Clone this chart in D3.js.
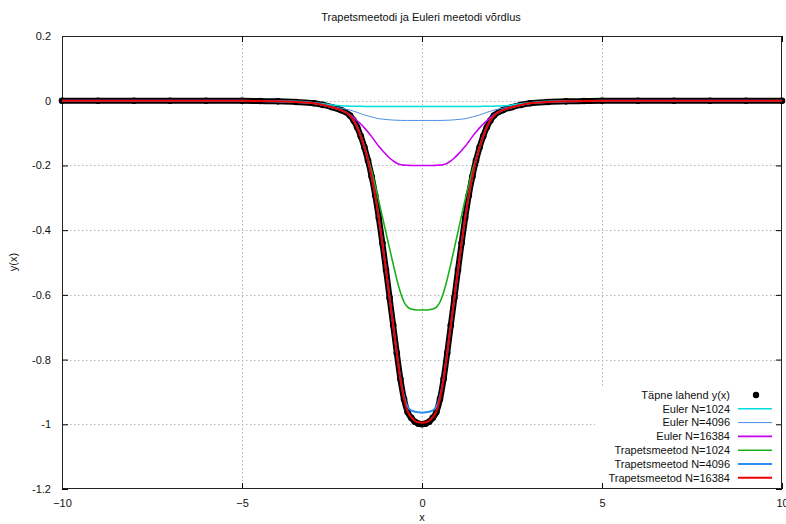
<!DOCTYPE html>
<html><head><meta charset="utf-8">
<script src="https://cdn.jsdelivr.net/npm/d3@7"></script>
<style>
body{margin:0;background:#fff}
svg{display:block}
text{font-family:"Liberation Sans",Arial,Helvetica,sans-serif;fill:#111}
</style>
</head><body>
<svg id="chart" width="786" height="524"></svg>
<script>
// ---------- data ----------
const xValues = [-10,-9,-8,-7,-6,-5,-4.5,-4,-3.5,-3,-2.75,-2.5,-2.25,-2,-1.9,-1.8,-1.7,-1.6,-1.5,-1.4,-1.3,-1.2,-1.1,-1,-0.9,-0.8,-0.7,-0.6,-0.5,-0.4,-0.3,-0.2,-0.1,0,
  0.1,0.2,0.3,0.4,0.5,0.6,0.7,0.8,0.9,1,1.1,1.2,1.3,1.4,1.5,1.6,1.7,1.8,1.9,2,2.25,2.5,2.75,3,3.5,4,4.5,5,6,7,8,9,10];

const exactY = [0,0,0,0,0,0,-0.001,-0.002,-0.004,-0.008,-0.013,-0.020,-0.029,-0.046,-0.061,-0.082,-0.110,-0.144,-0.185,-0.234,-0.292,-0.362,-0.440,-0.523,-0.609,-0.694,-0.780,-0.860,-0.922,-0.962,-0.980,-0.992,-0.998,-1.000,
  -0.998,-0.992,-0.980,-0.962,-0.922,-0.860,-0.780,-0.694,-0.609,-0.523,-0.440,-0.362,-0.292,-0.234,-0.185,-0.144,-0.110,-0.082,-0.061,-0.046,-0.029,-0.020,-0.013,-0.008,-0.004,-0.002,-0.001,0,0,0,0,0,0];

const euler1024 = [0,0,0,0,0,0,0,-0.0005,-0.002,-0.006,-0.009,-0.013,-0.0158,-0.0168,-0.0171,-0.0173,-0.0174,-0.0175,-0.0175,-0.0175,-0.0175,-0.0175,-0.0175,-0.0175,-0.0175,-0.0175,-0.0175,-0.0175,-0.0175,-0.0175,-0.0175,-0.0175,-0.0175,-0.0175,
  -0.0175,-0.0175,-0.0175,-0.0175,-0.0175,-0.0175,-0.0175,-0.0175,-0.0175,-0.0175,-0.0175,-0.0175,-0.0175,-0.0175,-0.0175,-0.0175,-0.0174,-0.0173,-0.0171,-0.0168,-0.0158,-0.013,-0.009,-0.006,-0.002,-0.0005,0,0,0,0,0,0,0];

const euler4096 = [0,0,0,0,0,0,0,-0.001,-0.003,-0.008,-0.013,-0.018,-0.023,-0.029,-0.0325,-0.036,-0.040,-0.044,-0.047,-0.050,-0.053,-0.0555,-0.057,-0.058,-0.059,-0.0598,-0.0603,-0.0607,-0.061,-0.061,-0.061,-0.061,-0.061,-0.061,
  -0.061,-0.061,-0.061,-0.061,-0.061,-0.0607,-0.0603,-0.0598,-0.059,-0.058,-0.057,-0.0555,-0.053,-0.050,-0.047,-0.044,-0.040,-0.036,-0.0325,-0.029,-0.023,-0.018,-0.013,-0.008,-0.003,-0.001,0,0,0,0,0,0,0];

const euler16384 = [0,0,0,0,0,0,-0.001,-0.002,-0.004,-0.008,-0.013,-0.020,-0.029,-0.043,-0.052,-0.062,-0.072,-0.084,-0.097,-0.111,-0.126,-0.141,-0.154,-0.166,-0.177,-0.186,-0.193,-0.197,-0.199,-0.1995,-0.200,-0.200,-0.200,-0.200,
  -0.200,-0.200,-0.200,-0.1995,-0.199,-0.197,-0.193,-0.186,-0.177,-0.166,-0.154,-0.141,-0.126,-0.111,-0.097,-0.084,-0.072,-0.062,-0.052,-0.043,-0.029,-0.020,-0.013,-0.008,-0.004,-0.002,-0.001,0,0,0,0,0,0];

const trap1024 = [0,0,0,0,0,0,-0.001,-0.002,-0.004,-0.008,-0.013,-0.020,-0.029,-0.045,-0.060,-0.081,-0.108,-0.141,-0.178,-0.216,-0.262,-0.310,-0.359,-0.408,-0.457,-0.505,-0.552,-0.592,-0.622,-0.638,-0.644,-0.646,-0.647,-0.647,
  -0.647,-0.646,-0.644,-0.638,-0.622,-0.592,-0.552,-0.505,-0.455,-0.405,-0.355,-0.305,-0.260,-0.215,-0.178,-0.141,-0.108,-0.081,-0.060,-0.045,-0.029,-0.020,-0.013,-0.008,-0.004,-0.002,-0.001,0,0,0,0,0,0];

const trap4096 = [0,0,0,0,0,0,-0.001,-0.002,-0.004,-0.008,-0.013,-0.020,-0.029,-0.046,-0.061,-0.082,-0.110,-0.144,-0.185,-0.234,-0.292,-0.362,-0.440,-0.523,-0.609,-0.694,-0.780,-0.858,-0.914,-0.946,-0.957,-0.961,-0.963,-0.964,
  -0.963,-0.961,-0.957,-0.946,-0.914,-0.858,-0.780,-0.694,-0.609,-0.523,-0.440,-0.362,-0.292,-0.234,-0.185,-0.144,-0.110,-0.082,-0.061,-0.046,-0.029,-0.020,-0.013,-0.008,-0.004,-0.002,-0.001,0,0,0,0,0,0];

const trap16384 = [0,0,0,0,0,0,-0.001,-0.002,-0.004,-0.008,-0.013,-0.020,-0.029,-0.046,-0.061,-0.082,-0.110,-0.144,-0.185,-0.234,-0.292,-0.362,-0.440,-0.523,-0.609,-0.694,-0.780,-0.860,-0.921,-0.960,-0.978,-0.989,-0.994,-0.995,
  -0.994,-0.989,-0.978,-0.960,-0.921,-0.860,-0.780,-0.694,-0.609,-0.523,-0.440,-0.362,-0.292,-0.234,-0.185,-0.144,-0.110,-0.082,-0.061,-0.046,-0.029,-0.020,-0.013,-0.008,-0.004,-0.002,-0.001,0,0,0,0,0,0];

const xTicks = [-10,-5,0,5,10];
const yTicks = [0.2,0,-0.2,-0.4,-0.6,-0.8,-1,-1.2];
const titleText = "Trapetsmeetodi ja Euleri meetodi võrdlus";
const xLabel = "x";
const yLabel = "y(x)";
const exactLabel = "Täpne lahend y(x)";
const lineLabels = ["Euler N=1024","Euler N=4096","Euler N=16384","Trapetsmeetod N=1024","Trapetsmeetod N=4096","Trapetsmeetod N=16384"];
const lineSeries = [euler1024, euler4096, euler16384, trap1024, trap4096, trap16384];

// ---------- styles ----------
const lineColors = ["#00dede","#4a8fe6","#c800f0","#18b018","#2b8ef5","#f00000"];
const lineWidths = [1.5,1,1.6,1.6,2,2];

// ---------- drawing ----------
const svg = d3.select("#chart");
const x = d3.scaleLinear().domain([-10,10]).range([62,782]);
const y = d3.scaleLinear().domain([-1.2,0.2]).range([489,36]);
const X0 = x.range()[0], X1 = x.range()[1], Y0 = y.range()[1], Y1 = y.range()[0];

svg.append("rect").attr("width",786).attr("height",524).attr("fill","#fff");

// grid
const grid = svg.append("g").attr("stroke","#b4b4b4").attr("stroke-width",1).attr("stroke-dasharray","1.5,2.5");
grid.selectAll("line.gx").data(xTicks.filter(d=>d>-10&&d<10)).join("line")
  .attr("x1",d=>Math.round(x(d))+0.5).attr("x2",d=>Math.round(x(d))+0.5).attr("y1",Y0).attr("y2",Y1);
grid.selectAll("line.gy").data(yTicks.filter(d=>d<0.2&&d>-1.2)).join("line")
  .attr("y1",d=>Math.round(y(d))+0.5).attr("y2",d=>Math.round(y(d))+0.5).attr("x1",X0).attr("x2",X1);

// legend background (opaque)
svg.append("rect").attr("x",595).attr("y",388).attr("width",186).attr("height",100).attr("fill","#fff");

// axes
function styleAxis(g){ g.select(".domain").remove(); g.selectAll(".tick line").attr("stroke","#000"); g.selectAll("text").attr("font-size",11).attr("fill","#111").attr("font-family",'"Liberation Sans",Arial,sans-serif'); }
svg.append("g").attr("transform",`translate(0,${Y1})`)
  .call(d3.axisBottom(x).tickValues(xTicks).tickSize(-6).tickPadding(10).tickFormat(d3.format("d"))).call(styleAxis);
svg.append("g").attr("transform",`translate(0,${Y0})`)
  .call(d3.axisTop(x).tickValues(xTicks).tickSize(-6).tickFormat("")).call(styleAxis);
svg.append("g").attr("transform",`translate(${X0},0)`)
  .call(d3.axisLeft(y).tickValues(yTicks).tickSize(-6).tickPadding(11).tickFormat(d=>d===0?"0":String(+d.toFixed(1)))).call(styleAxis);
svg.append("g").attr("transform",`translate(${X1},0)`)
  .call(d3.axisRight(y).tickValues(yTicks).tickSize(-6).tickFormat("")).call(styleAxis);

// frame
svg.append("rect").attr("x",X0+0.5).attr("y",Y0+0.5).attr("width",X1-X0-1).attr("height",Y1-Y0-1)
  .attr("fill","none").attr("stroke","#222").attr("stroke-width",1);

// exact solution: dense black dots
const ptsExact = xValues.map((v,i)=>[v,exactY[i]]);
const line = d3.line().x(d=>x(d[0])).y(d=>y(d[1])).curve(d3.curveMonotoneX);
svg.append("path").datum(ptsExact).attr("d",line).attr("fill","none").attr("stroke","#000")
  .attr("stroke-width",6).attr("stroke-linecap","round").attr("stroke-linejoin","round");
svg.append("g").selectAll("circle").data(ptsExact).join("circle")
  .attr("cx",d=>x(d[0])).attr("cy",d=>y(d[1])).attr("r",3.3).attr("fill","#000");

// numerical solutions
lineSeries.forEach((s,k)=>{
  const pts = xValues.map((v,i)=>[v,s[i]]);
  svg.append("path").datum(pts).attr("d",line).attr("fill","none")
    .attr("stroke",lineColors[k]).attr("stroke-width",lineWidths[k]).attr("stroke-linejoin","round");
});

// legend
const lg = svg.append("g");
const rowY = i => 395 + i*13.8;
lg.append("text").attr("x",730).attr("y",rowY(0)).attr("dy","0.35em").attr("text-anchor","end").attr("font-size",11).text(exactLabel);
lg.append("circle").attr("cx",756).attr("cy",rowY(0)).attr("r",3.2).attr("fill","#000");
lineLabels.forEach((t,k)=>{
  const yy = rowY(k+1);
  lg.append("text").attr("x",730).attr("y",yy).attr("dy","0.35em").attr("text-anchor","end").attr("font-size",11).text(t);
  lg.append("line").attr("x1",738).attr("x2",772).attr("y1",yy).attr("y2",yy)
    .attr("stroke",lineColors[k]).attr("stroke-width",lineWidths[k]);
});

// titles
svg.append("text").attr("x",421).attr("y",21).attr("text-anchor","middle").attr("font-size",11).text(titleText);
svg.append("text").attr("x",422).attr("y",521).attr("text-anchor","middle").attr("font-size",11).text(xLabel);
svg.append("text").attr("transform","translate(17,262) rotate(-90)").attr("text-anchor","middle").attr("font-size",11).text(yLabel);
</script>
</body></html>
